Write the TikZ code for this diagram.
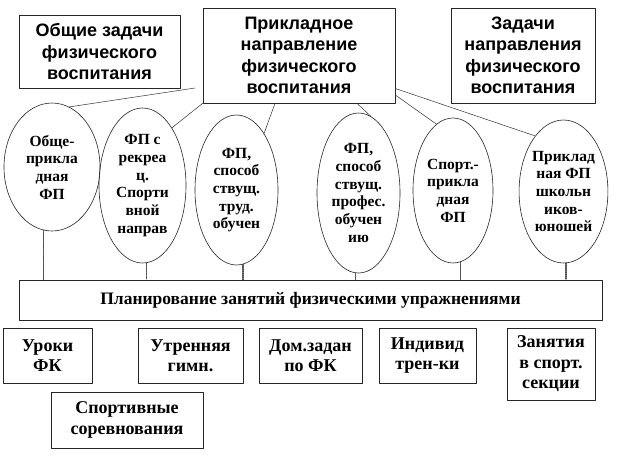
\documentclass[tikz,border=0pt]{standalone}
\usepackage{fontspec}
\setmainfont{Liberation Serif}
\setsansfont{Liberation Sans}
\usetikzlibrary{shapes.geometric}

\begin{document}
\begin{tikzpicture}[x=1pt,y=-1pt,line cap=round,line join=round,
  box/.style={draw=black!85,line width=.6pt,inner sep=0pt,align=center},
  headbox/.style={box,font=\sffamily\bfseries\fontsize{18}{21.5}\selectfont},
  formbox/.style={box,font=\bfseries\fontsize{18}{20.5}\selectfont},
  oval/.style={draw=black!85,line width=.6pt,ellipse,inner sep=0pt,align=center,font=\bfseries\fontsize{15.5}{17.7}\selectfont},
  link/.style={black!80,line width=.5pt},
  drop/.style={black!70,line width=1.1pt,densely dotted}]
  \path[use as bounding box] (0,0) rectangle (622,464);
  \fill[white] (0,0) rectangle (622,464);

  % top row
  \node[headbox,minimum width=161pt,minimum height=73pt] (obsh) at (99.5,51.5) {Общие задачи\\физического\\воспитания};
  \node[headbox,minimum width=192pt,minimum height=95pt] (prikl) at (299,55.5) {Прикладное\\направление\\физического\\воспитания};
  \node[headbox,minimum width=144pt,minimum height=95pt] (zadachi) at (523,55.5) {Задачи\\направления\\физического\\воспитания};

  % kinds of applied PT
  \node[oval,minimum width=96pt,minimum height=128pt] (e1) at (52,167) {Обще-\\прикла\\дная\\ФП};
  \node[oval,minimum width=87pt,minimum height=155pt] (e2) at (142.5,185.5) {ФП с\\рекреа\\ц.\\Спорти\\вной\\направ};
  \node[oval,minimum width=83pt,minimum height=150pt] (e3) at (236.5,190) {ФП,\\способ\\ствущ.\\труд.\\обучен};
  \node[oval,minimum width=83pt,minimum height=160pt] (e4) at (358.5,193) {ФП,\\способ\\ствущ.\\профес.\\обучен\\ию};
  \node[oval,minimum width=80pt,minimum height=145pt] (e5) at (453,190.5) {Спорт.-\\прикла\\дная\\ФП};
  \node[oval,minimum width=83pt,minimum height=143pt] (e6) at (563.5,191.5) {Приклад\\ная ФП\\школьн\\иков-\\юношей};

  \coordinate (free) at (195,88);
  \draw[link] (free) -- (e1.74);
  \draw[link] (prikl.south west) -- (e2.63);
  \draw[link] ([xshift=-24pt]prikl.south) -- (e3.64);
  \draw[link] ([xshift=58pt]prikl.south) -- (e4.81);
  \draw[link] ([yshift=-39.5pt]prikl.east) -- (e5.104);
  \draw[link] ([yshift=-33pt]prikl.east) -- (e6.117);

  % planning
  \node[box,minimum width=583pt,minimum height=40pt,font=\bfseries\fontsize{17.5}{20}\selectfont] (plan) at (310.5,300) {Планирование занятий физическими упражнениями};
  \foreach \e/\a in {e1/262,e2/273,e3/275,e4/268,e5/276,e6/272}
    \draw[drop] (\e.\a) -- (\e.\a |- plan.north);

  % forms of lessons
  \node[formbox,minimum width=89pt,minimum height=55pt] (uroki) at (47.5,355.5) {Уроки\\ФК};
  \node[formbox,minimum width=105pt,minimum height=55pt] (utro) at (190.5,355.5) {Утренняя\\гимн.};
  \node[formbox,minimum width=103pt,minimum height=55pt] (dom) at (310.5,355.5) {Дом.задан\\по ФК};
  \node[formbox,minimum width=97pt,minimum height=55pt] (indiv) at (427.5,355.5) {Индивид\\трен-ки};
  \node[formbox,minimum width=88pt,minimum height=72pt] (sekc) at (551,364) {Занятия\\в спорт.\\секции};
  \node[formbox,minimum width=152pt,minimum height=56pt] (sorev) at (127,420) {Спортивные\\соревнования};
\end{tikzpicture}
\end{document}
